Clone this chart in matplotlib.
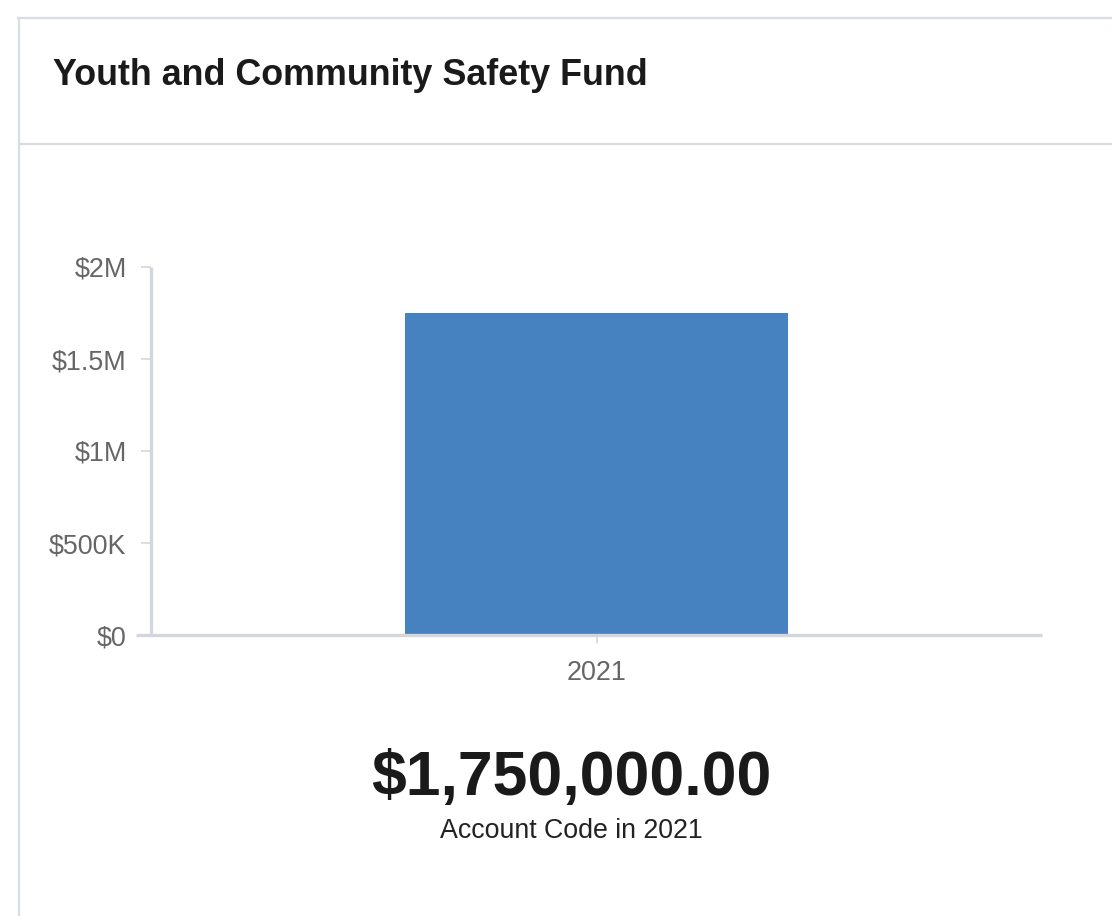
import matplotlib
matplotlib.use('Agg')
import matplotlib.pyplot as plt
import matplotlib as mpl
from matplotlib.lines import Line2D
from matplotlib.ticker import FuncFormatter

mpl.rcParams['font.family'] = ['Liberation Sans', 'DejaVu Sans']

BLUE = '#4681c0'
AXIS = '#d3d6dc'
BORDER = '#d9dce1'
GREY_TXT = '#666666'
DARK = '#1a1a1a'

years = ['2021']
amounts = [1750000]
yticks = [0, 500000, 1000000, 1500000, 2000000]
title = 'Youth and Community Safety Fund'
subtitle = 'Account Code in 2021'

W, H = 1112, 916
fig = plt.figure(figsize=(W / 100, H / 100), dpi=100)
fig.patch.set_facecolor('white')

# card outline and header divider
fig.add_artist(Line2D([19 / W, 19 / W], [0, 1 - 18 / H], color=BORDER, lw=1.6))
fig.add_artist(Line2D([18 / W, 1], [1 - 18 / H, 1 - 18 / H], color=BORDER, lw=1.6))
fig.add_artist(Line2D([19 / W, 1], [1 - 144 / H, 1 - 144 / H], color=BORDER, lw=1.6))

fig.text(53 / W, 1 - 85 / H, title, fontsize=25.85, fontweight='bold',
         color=DARK, ha='left', va='baseline')


def money(v, _pos=None):
    if v == 0:
        return '$0'
    if v >= 1e6:
        return f'${v / 1e6:g}M'
    return f'${v / 1e3:g}K'


# axes box: y axis at x=151, plot bottom at y=635, top tick at y=267
left, right, top, bottom = 151, 1042, 267, 635
ax = fig.add_axes([left / W, 1 - bottom / H, (right - left) / W, (bottom - top) / H])
ax.bar(range(len(years)), amounts, width=0.43, color=BLUE, zorder=1)
ax.set_xlim(-0.5, 0.5)
ax.set_ylim(0, 2000000)
ax.set_yticks(yticks)
ax.yaxis.set_major_formatter(FuncFormatter(money))
ax.set_xticks(range(len(years)))
ax.set_xticklabels(years)

for s in ['top', 'right']:
    ax.spines[s].set_visible(False)
for s in ['left', 'bottom']:
    ax.spines[s].set_color(AXIS)
    ax.spines[s].set_linewidth(2.4)
    ax.spines[s].set_zorder(3)
    ax.spines[s].set_capstyle('butt')
ax.spines['bottom'].set_bounds(-0.5 - 15 / (right - left), 0.5)

ax.tick_params(axis='y', length=7.5, width=1.2, color=AXIS, pad=10,
               labelsize=19.4, labelcolor=GREY_TXT)
ax.tick_params(axis='x', length=6, width=1.2, color=AXIS, pad=12,
               labelsize=19.4, labelcolor=GREY_TXT)

fig.text(571 / W, 1 - 795 / H, f'${amounts[0]:,.2f}', fontsize=45, fontweight='bold',
         color=DARK, ha='center', va='baseline')
fig.text(571 / W, 1 - 838 / H, subtitle, fontsize=19.3, color='#222222',
         ha='center', va='baseline')

fig.savefig('out.png', dpi=100)
